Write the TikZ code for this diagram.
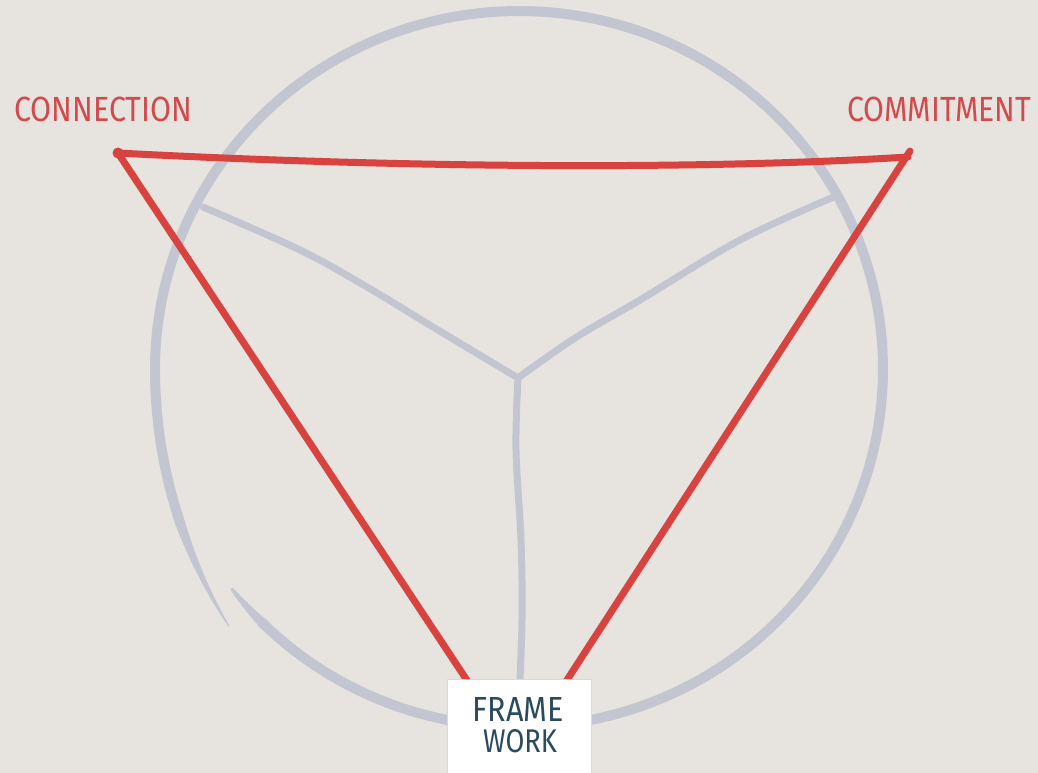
\documentclass[tikz,border=0pt]{standalone}
\usepackage{fontspec}
\usepackage{graphicx}
\newfontfamily\labfont{Fira Sans}
\definecolor{bg}{HTML}{E7E3DF}
\definecolor{ring}{HTML}{C3C6D0}
\definecolor{redline}{HTML}{D9433F}
\definecolor{redtext}{HTML}{D24A4C}
\definecolor{darktext}{HTML}{2A4A5E}
\tikzset{
  circ/.style={draw=ring, line width=10pt, line cap=round, line join=round},
  spoke/.style={draw=ring, line width=7pt, line cap=round, line join=round},
  redl/.style={draw=redline, line width=7pt, line cap=round, line join=round},
  lab/.style={inner sep=0pt, text=redtext, font=\labfont},
  fbox/.style={fill=white, draw=black!15, line width=0.8pt, inner sep=0pt, minimum width=144pt, minimum height=100pt},
}
\newcommand{\ringx}[1]{519+364*(1+0.073*(max(0,-180-#1)/42)^2)*cos(#1)}
\newcommand{\ringy}[1]{369+358*(1+0.073*(max(0,-180-#1)/42)^2)*sin(#1)}
\begin{document}
\begin{tikzpicture}[x=1pt,y=-1pt]
\useasboundingbox[fill=bg] (0,0) rectangle (1038,773);
% ring (hand drawn, open with overlap)
\foreach \i in {0,...,7}{
  \pgfmathsetmacro\ta{142-\i}
  \pgfmathsetmacro\tb{141-\i}
  \pgfmathsetmacro\w{3.5+6.5*\i/7}
  \draw[circ, line width=\w pt] plot[domain=\ta:\tb, samples=3] ({\ringx{\x}},{\ringy{\x}});
}
\draw[circ] plot[domain=135:-204, samples=200] ({\ringx{\x}},{\ringy{\x}});
\foreach \i in {0,...,17}{
  \pgfmathsetmacro\ta{-204-\i}
  \pgfmathsetmacro\tb{-205-\i}
  \pgfmathsetmacro\w{10-8.5*\i/17}
  \draw[circ, line width=\w pt] plot[domain=\ta:\tb, samples=3] ({\ringx{\x}},{\ringy{\x}});
}
% spokes
\coordinate (J) at (518,378);
\coordinate (L) at (203,207);
\coordinate (R) at (836,196);
\coordinate (B) at (519,700);
\draw[spoke] plot[smooth, tension=0.6] coordinates {(L) (300,250) (367,287) (433,327) (J)};
\draw[spoke] plot[smooth, tension=0.6] coordinates {(R) (740,240) (640,300) (575,338) (J)};
\draw[spoke] plot[smooth, tension=0.6] coordinates {(J) (516,450) (521,540) (522,620) (B)};
% red triangle
\coordinate (CN) at (118,153);
\coordinate (CM) at (908,157);
\coordinate (CT) at (910,151);
\coordinate (FL) at (480,700);
\coordinate (FR) at (554,700);
\draw[redl] (CN) .. controls (400,168) and (700,170) .. (CM);
\draw[redl] (CN) -- (FL);
\draw[redl] (CT) -- (FR);
\fill[redline] (CN) circle (5.5pt);
% labels
\node[lab, anchor=south west] (con) at (14,122) {\resizebox{178pt}{24.5pt}{CONNECTION}};
\node[lab, anchor=south west] (com) at (847,122) {\resizebox{184pt}{24.5pt}{COMMITMENT}};
% framework box
\node[fbox, anchor=north west] (fw) at (447,679) {};
\node[inner sep=0pt, text=darktext, font=\labfont, anchor=south] (fw1) at (518.5,722) {\resizebox{91pt}{24pt}{FRAME}};
\node[inner sep=0pt, text=darktext, font=\labfont, anchor=south] (fw2) at (520,753) {\resizebox{74pt}{23pt}{WORK}};
\end{tikzpicture}
\end{document}
